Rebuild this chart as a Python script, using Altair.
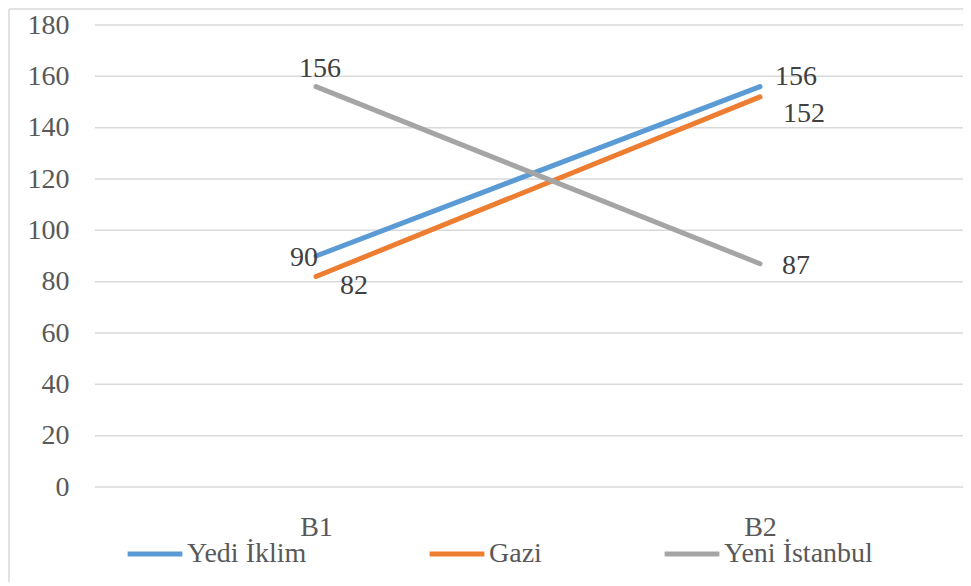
import altair as alt
import pandas as pd

categories = ["B1", "B2"]
series_names = ["Yedi İklim", "Gazi", "Yeni İstanbul"]
yedi_iklim = [90, 156]
gazi = [82, 152]
yeni_istanbul = [156, 87]
colors = ["#5B9BD5", "#ED7D31", "#A5A5A5"]
y_ticks = [0, 20, 40, 60, 80, 100, 120, 140, 160, 180]

rows = []
for name, vals in zip(series_names, [yedi_iklim, gazi, yeni_istanbul]):
    for c, v in zip(categories, vals):
        rows.append({"cat": c, "series": name, "value": v})
df = pd.DataFrame(rows)
grid_df = pd.DataFrame({"tick": y_ticks})

FONT = "Liberation Serif, DejaVu Serif, Noto Serif, serif"
FS = 28
W, H = 868, 462

x_scale = alt.Scale(type="point", domain=categories, range=[221, 665], padding=0)
y_scale = alt.Scale(domain=[0, 180], nice=False)

x_enc = alt.X("cat:N", scale=x_scale,
              axis=alt.Axis(title=None, labelAngle=0, domain=False, ticks=False, grid=False,
                            labelFont=FONT, labelFontSize=FS, labelColor="#595959", labelPadding=26))
y_enc = alt.Y("value:Q", scale=y_scale,
              axis=alt.Axis(title=None, values=y_ticks, domain=False, ticks=False, grid=False,
                            labelFont=FONT, labelFontSize=FS, labelColor="#595959", labelPadding=26))

gridlines = alt.Chart(grid_df).mark_rule(color="#D9D9D9", strokeWidth=1.5).encode(
    y=alt.Y("tick:Q", scale=y_scale),
    x=alt.value(0), x2=alt.value(W),
)

base = alt.Chart(df)

lines = base.mark_line(strokeWidth=5, strokeCap="round").encode(
    x=x_enc, y=y_enc,
    color=alt.Color("series:N", scale=alt.Scale(domain=series_names, range=colors),
                    legend=alt.Legend(title=None, orient="none", direction="horizontal",
                                      legendX=30, legendY=499,
                                      symbolType="stroke", symbolStrokeWidth=5, symbolSize=3000,
                                      labelFont=FONT, labelFontSize=FS, labelColor="#595959",
                                      labelOffset=2, labelLimit=400, columnPadding=112)),
    order=alt.Order("cat:N"),
)

def label(series, cat, **kw):
    return base.transform_filter(
        (alt.datum.series == series) & (alt.datum.cat == cat)
    ).mark_text(font=FONT, fontSize=FS, color="#404040", baseline="middle", **kw).encode(
        x=alt.X("cat:N", scale=x_scale),
        y=alt.Y("value:Q", scale=y_scale),
        text="value:Q",
    )

labels = [
    label("Yedi İklim", "B1", align="right", dx=2, dy=2),
    label("Yedi İklim", "B2", align="left", dx=15, dy=-10),
    label("Gazi", "B1", align="left", dx=24, dy=9),
    label("Gazi", "B2", align="left", dx=23, dy=17),
    label("Yeni İstanbul", "B1", align="center", dx=4, dy=-18),
    label("Yeni İstanbul", "B2", align="left", dx=22, dy=2),
]

frame_df = pd.DataFrame({"a": [0]})
frame_left = alt.Chart(frame_df).mark_rule(color="#D9D9D9", strokeWidth=1.5).encode(
    x=alt.value(-86), y=alt.value(-16), y2=alt.value(H + 95))
frame_top = alt.Chart(frame_df).mark_rule(color="#D9D9D9", strokeWidth=1.5).encode(
    x=alt.value(-86), x2=alt.value(W), y=alt.value(-16))

chart = alt.layer(frame_left, frame_top, gridlines, lines, *labels).properties(
    width=W, height=H,
    autosize=alt.AutoSizeParams(type="none"),
    padding={"left": 87, "top": 17, "right": 0, "bottom": 95},
).configure_view(stroke=None)

chart.save("out.html", embed_options={"renderer": "svg", "actions": False})
